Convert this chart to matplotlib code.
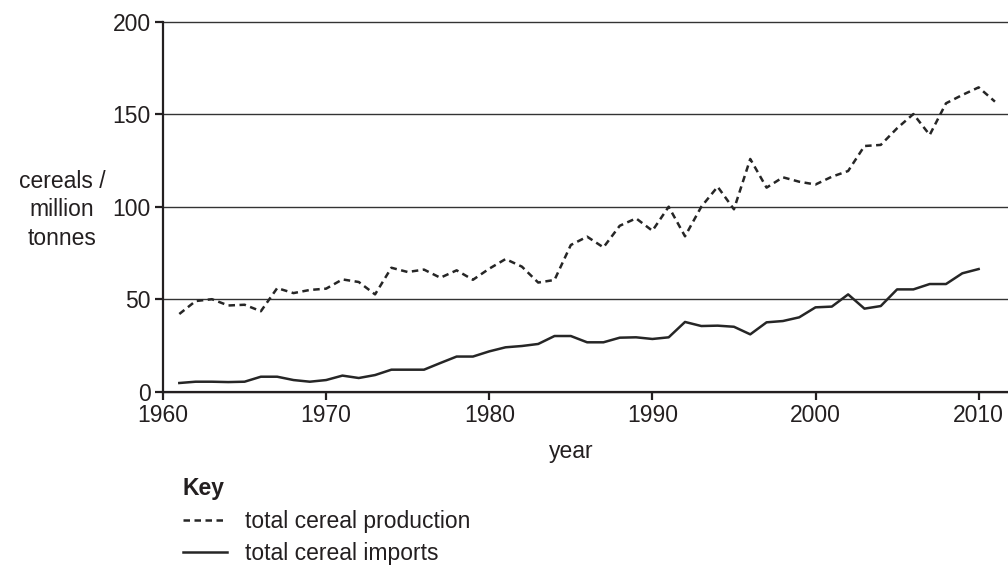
import matplotlib
matplotlib.use("Agg")
import matplotlib.pyplot as plt
from matplotlib.lines import Line2D

years = list(range(1961, 2012))

production = [42, 49, 50, 46.6, 47, 43.5, 56, 53.3, 55, 55.7,
              60.7, 59.3, 52.6, 67, 64.7, 66, 61.6, 65.6, 60.5, 66.5,
              71.7, 67.6, 59, 60.4, 79.3, 83.8, 78, 89.7, 93.7, 87,
              100, 84, 100, 110.8, 98.6, 125.8, 110.3, 115.9, 113.5, 112,
              116.2, 119.3, 132.8, 133.4, 142.4, 150.1, 138.8, 155.9, 160.4, 164.5,
              156.8]

imports = [4.7, 5.4, 5.4, 5.2, 5.4, 8.1, 8.1, 6.3, 5.4, 6.3,
           8.7, 7.4, 9, 11.9, 11.9, 11.9, 15.5, 19, 19, 21.8,
           24, 24.7, 25.8, 30.1, 30.1, 26.7, 26.7, 29.2, 29.4, 28.5,
           29.4, 37.7, 35.5, 35.7, 35.1, 31, 37.5, 38.2, 40.2, 45.6,
           46, 52.6, 44.9, 46.3, 55.3, 55.3, 58.2, 58.2, 64, 66.3]

yticks = [0, 50, 100, 150, 200]
xticks = [1960, 1970, 1980, 1990, 2000, 2010]

ink = "#231f20"
fs = 16.5
plt.rcParams["font.family"] = ["Liberation Sans", "DejaVu Sans"]
plt.rcParams["text.color"] = ink


def main():
    fig = plt.figure(figsize=(10.08, 5.65), dpi=100)
    ax = fig.add_axes([163 / 1008, 1 - 391.7 / 565, 1 - 163 / 1008,
                       (391.7 - 21.7) / 565])

    dash = (0, (2.6, 1.8))
    ax.plot(years, production, color="#262626", lw=1.8, linestyle=dash)
    ax.plot(years[:len(imports)], imports, color="#262626", lw=1.8)

    ax.set_xlim(1960, 2011.8)
    ax.set_ylim(0, 200)
    ax.set_xticks(xticks)
    ax.set_yticks(yticks)
    ax.yaxis.grid(True, color="#333333", lw=1.0)
    ax.set_axisbelow(True)
    for gl in ax.yaxis.get_gridlines():
        gl.set_clip_on(False)

    for side in ("top", "right"):
        ax.spines[side].set_visible(False)
    for side in ("left", "bottom"):
        ax.spines[side].set_linewidth(1.6)
        ax.spines[side].set_color(ink)
    ax.tick_params(axis="both", direction="out", length=6, width=1.6,
                   colors=ink, labelsize=fs, pad=3)

    ax.set_xlabel("year", fontsize=fs, color=ink)
    ax.xaxis.set_label_coords((1985 - 1960) / 51.8, -0.13)

    fig.text(62 / 1008, 1 - 210 / 565, "cereals /\nmillion\ntonnes",
             ha="center", va="center", fontsize=fs, linespacing=1.3)

    handles = [Line2D([], [], color="#262626", lw=1.8, linestyle=dash),
               Line2D([], [], color="#262626", lw=1.8)]
    labels = ["total cereal production", "total cereal imports"]
    leg = fig.legend(handles, labels, loc="upper left",
                     bbox_to_anchor=(183 / 1008, 1 - 477 / 565),
                     frameon=False, fontsize=fs, title="Key",
                     title_fontproperties={"weight": "bold", "size": fs},
                     alignment="left", handlelength=1.9,
                     handletextpad=0.8, labelspacing=0.42, borderpad=0,
                     borderaxespad=0)
    for t in leg.get_texts():
        t.set_color(ink)
    leg.get_title().set_color(ink)

    fig.savefig("out.png", dpi=100)


if __name__ == '__main__':
    main()
